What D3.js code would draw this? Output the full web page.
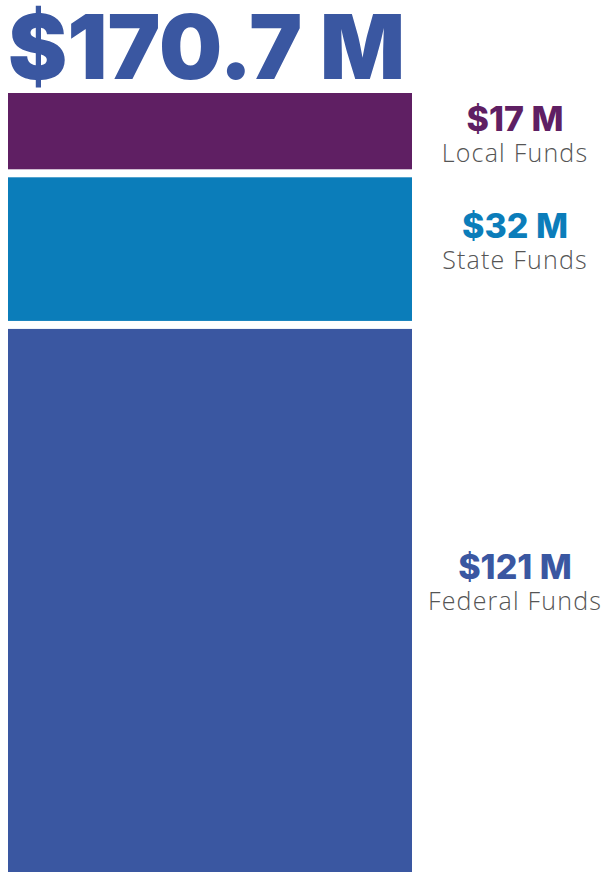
<!DOCTYPE html>
<meta charset="utf-8">
<script src="https://d3js.org/d3.v7.min.js"></script>
<style>
  body { margin: 0; background: #fff; }
</style>
<div id="my_dataviz"></div>
<script>

  // data
  var categories = ["Local Funds", "State Funds", "Federal Funds"];
  var values = [17, 32, 121];
  var valueLabels = ["$17 M", "$32 M", "$121 M"];
  var totalLabel = "$170.7 M";
  var colors = ["#5f1f63", "#0b7dba", "#3a57a1"];

  var width = 607, height = 877;
  var gap = 8;

  var svg = d3.select("#my_dataviz")
    .append("svg")
      .attr("width", width)
      .attr("height", height);

  // title
  svg.append("text")
    .attr("x", 8)
    .attr("y", 79)
    .attr("textLength", 397)
    .attr("lengthAdjust", "spacingAndGlyphs")
    .style("font-family", "Inter")
    .style("font-weight", 900)
    .style("font-size", "90px")
    .style("fill", "#3a57a1")
    .text(totalLabel);

  // stack the values top to bottom
  var total = d3.sum(values);
  var starts = [];
  var acc = 0;
  values.forEach(function(v) { starts.push(acc); acc += v; });

  var top0 = 93, bottom0 = 872;
  var y = d3.scaleLinear()
    .domain([0, total])
    .range([top0, bottom0 - gap * (values.length - 1)]);

  var x = d3.scaleBand()
    .domain(["total"])
    .range([8, 412])
    .padding(0);

  var seg = svg.selectAll("g.seg")
    .data(categories)
    .enter()
    .append("g")
      .attr("class", "seg");

  seg.append("rect")
    .attr("x", x("total"))
    .attr("width", x.bandwidth())
    .attr("y", function(d, i) { return y(starts[i]) + gap * i; })
    .attr("height", function(d, i) { return y(values[i]) - y(0); })
    .style("fill", function(d, i) { return colors[i]; });

  function mid(i) {
    return y(starts[i] + values[i] / 2) + gap * i;
  }

  // nudge labels a bit off the segment middle
  var offs = [0, -11, -21];

  seg.append("text")
    .attr("x", 515)
    .attr("y", function(d, i) { return mid(i) + offs[i]; })
    .attr("text-anchor", "middle")
    .style("font-family", "Inter")
    .style("font-weight", 800)
    .style("font-size", "34px")
    .style("fill", function(d, i) { return colors[i]; })
    .text(function(d, i) { return valueLabels[i]; });

  seg.append("text")
    .attr("x", 515)
    .attr("y", function(d, i) { return mid(i) + offs[i] + 31; })
    .attr("text-anchor", "middle")
    .style("font-family", "Open Sans")
    .style("font-weight", 300)
    .style("font-size", "25px")
    .style("letter-spacing", "1.2px")
    .style("fill", "#555")
    .text(function(d) { return d; });

</script>
